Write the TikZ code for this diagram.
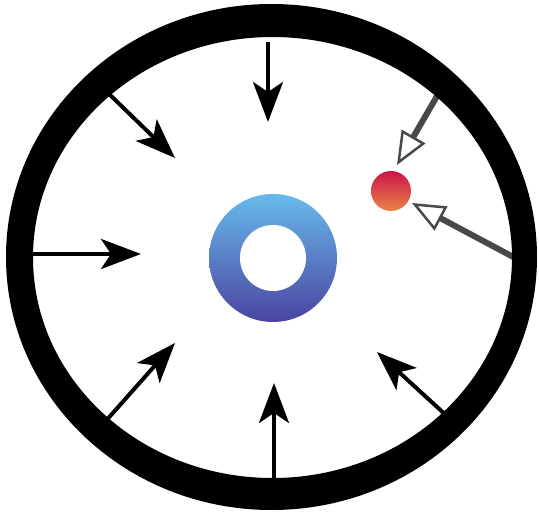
\documentclass[tikz,border=0pt]{standalone}
\usetikzlibrary{arrows.meta}
\definecolor{ringtop}{RGB}{104,186,236}
\definecolor{ringbot}{RGB}{74,68,160}
\definecolor{dottop}{RGB}{204,20,72}
\definecolor{dotbot}{RGB}{232,132,72}
\definecolor{arrgray}{RGB}{72,72,72}
\tikzset{
  inarrow/.style={line width=4pt, line cap=butt, -{Stealth[length=40pt,width=30pt,inset=10pt]}},
  openarrow/.style={draw=arrgray, line width=6pt, -{Triangle[open, fill=white, length=33pt, width=27pt, line width=2.5pt]}},
}
\begin{document}
\begin{tikzpicture}[x=1pt,y=-1pt]
\useasboundingbox (0,0) rectangle (539,513);
% central shaded ring
\shade[top color=ringtop, bottom color=ringbot] (273,258) circle (64);
\fill[white] (273,258) circle (33);
% red dot
\node[circle, minimum size=40pt, inner sep=0pt, top color=dottop, bottom color=dotbot] (dot) at (391,191) {};
% arrow endpoints
\coordinate (s1) at (268,42);   \coordinate (e1) at (268,122);
\coordinate (s2) at (106,91);   \coordinate (e2) at (175,158);
\coordinate (s3) at (28,254);   \coordinate (e3) at (141,254);
\coordinate (s4) at (104,423);  \coordinate (e4) at (175,343);
\coordinate (s5) at (274,482);  \coordinate (e5) at (274,383);
\coordinate (s6) at (448,417);  \coordinate (e6) at (377,352);
\coordinate (s7) at (440,91);   \coordinate (e7) at (397,165);
\coordinate (s8) at (517,259);  \coordinate (e8) at (412,203);
\draw[inarrow] (s1) -- (e1);
\draw[inarrow] (s2) -- (e2);
\draw[inarrow] (s3) -- (e3);
\draw[inarrow] (s4) -- (e4);
\draw[inarrow] (s5) -- (e5);
\draw[inarrow] (s6) -- (e6);
\draw[openarrow] (s7) -- (e7);
\draw[openarrow] (s8) -- (e8);
% outer ring
\fill[black, even odd rule] (271.5,257) ellipse (265.5 and 253)
                            (272.5,257.5) ellipse (239.5 and 220.5);
\end{tikzpicture}
\end{document}
